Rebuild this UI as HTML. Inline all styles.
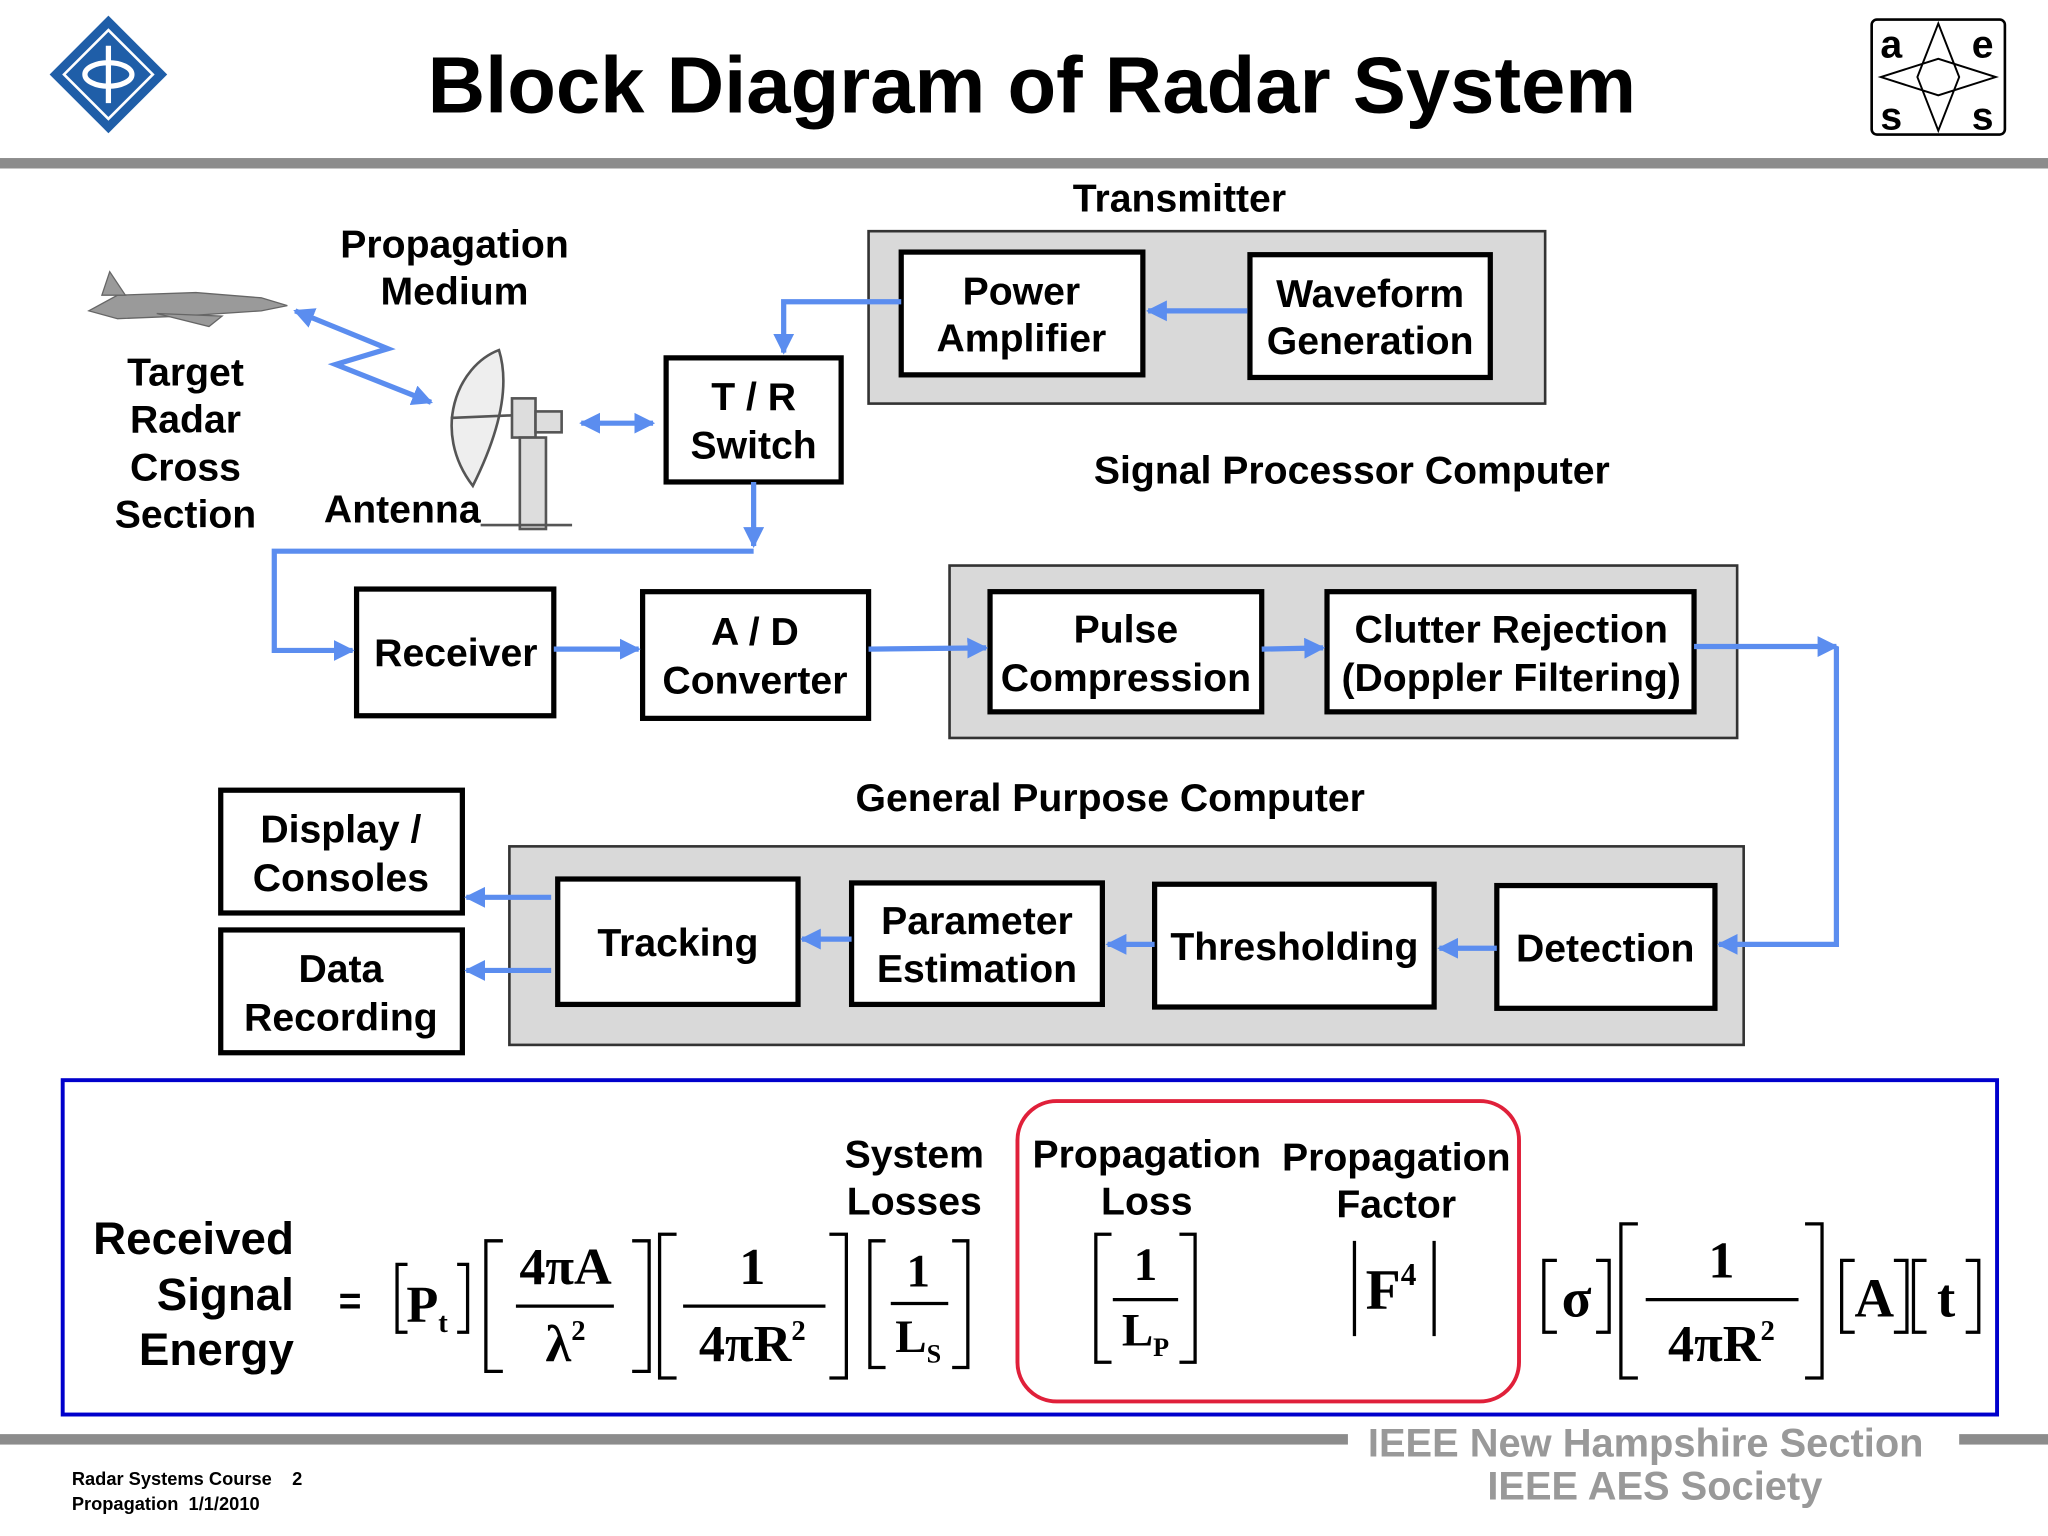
<!DOCTYPE html>
<html><head><meta charset="utf-8"><style>
html,body{margin:0;padding:0;background:#fff;}
svg{display:block;}
.t{font-family:"Liberation Sans",sans-serif;font-weight:bold;fill:#000;}
.s{font-family:"Liberation Serif",serif;font-weight:bold;fill:#000;}
</style></head><body>
<svg width="2048" height="1536" viewBox="0 0 1568 1176" xmlns="http://www.w3.org/2000/svg">
<defs>
<marker id="a" viewBox="0 0 10 10" refX="9" refY="5" markerWidth="4" markerHeight="4" orient="auto-start-reverse"><path d="M0,0 L10,5 L0,10 z" fill="#5b8def"/></marker>
</defs>
<rect width="1568" height="1176" fill="#fff"/>
<text class="t" x="790" y="86" font-size="61" text-anchor="middle">Block Diagram of Radar System</text>
<rect x="0" y="121" width="1568" height="8" fill="#8c8c8c"/>
<g transform="translate(83,57)">
<path d="M0,-45 L45,0 L0,45 L-45,0 z" fill="#1f5ea8"/>
<path d="M0,-34 L34,0 L0,34 L-34,0 z" fill="none" stroke="#fff" stroke-width="2"/>
<ellipse cx="0" cy="0" rx="18" ry="9" fill="none" stroke="#fff" stroke-width="4"/>
<line x1="0" y1="-22" x2="0" y2="22" stroke="#fff" stroke-width="4"/>
</g>
<rect x="1433" y="15" width="102" height="88" fill="#fff" stroke="#000" stroke-width="2" rx="4"/>
<path d="M1484,18 L1500,59 L1484,100 L1468,59 z M1440,59 L1484,45 L1528,59 L1484,73 z" fill="none" stroke="#000" stroke-width="1.5"/>
<text class="t" x="1448" y="44" font-size="30" text-anchor="middle">a</text>
<text class="t" x="1518" y="44" font-size="30" text-anchor="middle">e</text>
<text class="t" x="1448" y="99" font-size="30" text-anchor="middle">s</text>
<text class="t" x="1518" y="99" font-size="30" text-anchor="middle">s</text>

<g class="t" font-size="30" text-anchor="middle">
<text x="903" y="162">Transmitter</text>
<text x="348" y="197">Propagation</text><text x="348" y="233">Medium</text>
<text x="142" y="295">Target</text><text x="142" y="331">Radar</text><text x="142" y="368">Cross</text><text x="142" y="404">Section</text>
<text x="308" y="400">Antenna</text>
<text x="1035" y="370">Signal Processor Computer</text>
<text x="850" y="621">General Purpose Computer</text>
</g>

<rect x="665" y="177" width="518" height="132" fill="#d9d9d9" stroke="#333" stroke-width="2"/>
<rect x="727" y="433" width="603" height="132" fill="#d9d9d9" stroke="#333" stroke-width="2"/>
<rect x="390" y="648" width="945" height="152" fill="#d9d9d9" stroke="#333" stroke-width="2"/>

<g fill="#fff" stroke="#000" stroke-width="4">
<rect x="690" y="193" width="185" height="94"/>
<rect x="957" y="195" width="184" height="94"/>
<rect x="510" y="274" width="134" height="95"/>
<rect x="273" y="451" width="151" height="97"/>
<rect x="492" y="453" width="173" height="97"/>
<rect x="758" y="453" width="208" height="92"/>
<rect x="1016" y="453" width="281" height="92"/>
<rect x="427" y="673" width="184" height="96"/>
<rect x="652" y="676" width="192" height="93"/>
<rect x="884" y="677" width="214" height="94"/>
<rect x="1146" y="678" width="167" height="94"/>
<rect x="169" y="605" width="185" height="94"/>
<rect x="169" y="712" width="185" height="94"/>
</g>
<g class="t" font-size="30" text-anchor="middle">
<text x="782" y="233">Power</text><text x="782" y="269">Amplifier</text>
<text x="1049" y="235">Waveform</text><text x="1049" y="271">Generation</text>
<text x="577" y="314">T / R</text><text x="577" y="351">Switch</text>
<text x="349" y="510">Receiver</text>
<text x="578" y="494">A / D</text><text x="578" y="531">Converter</text>
<text x="862" y="492">Pulse</text><text x="862" y="529">Compression</text>
<text x="1157" y="492">Clutter Rejection</text><text x="1157" y="529">(Doppler Filtering)</text>
<text x="519" y="732">Tracking</text>
<text x="748" y="715">Parameter</text><text x="748" y="752">Estimation</text>
<text x="991" y="735">Thresholding</text>
<text x="1229" y="736">Detection</text>
<text x="261" y="645">Display /</text><text x="261" y="682">Consoles</text>
<text x="261" y="752">Data</text><text x="261" y="789">Recording</text>
</g>

<g fill="none" stroke="#5b8def" stroke-width="4">
<path d="M690,231 H600 V270" marker-end="url(#a)"/>
<path d="M955,238 H879" marker-end="url(#a)"/>
<path d="M577,369 V418" marker-end="url(#a)"/>
<path d="M577,422 H210 V498 H270" marker-end="url(#a)"/>
<path d="M445,324 H500" marker-start="url(#a)" marker-end="url(#a)"/>
<path d="M424,497 H489" marker-end="url(#a)"/>
<path d="M665,497 L755,496" marker-end="url(#a)"/>
<path d="M966,497 L1013,496" marker-end="url(#a)"/>
<path d="M1297,495 H1406" marker-end="url(#a)"/>
<path d="M1406,495 V723 H1316" marker-end="url(#a)"/>
<path d="M1146,726 H1102" marker-end="url(#a)"/>
<path d="M884,723 H848" marker-end="url(#a)"/>
<path d="M652,719 H614" marker-end="url(#a)"/>
<path d="M422,687 H357" marker-end="url(#a)"/>
<path d="M422,743 H357" marker-end="url(#a)"/>
<path d="M226,238 L297,267 L257,279 L330,308" marker-start="url(#a)" marker-end="url(#a)"/>
</g>

<g fill="#9a9a9a" stroke="#666" stroke-width="1">
<path d="M68,238 L90,226 L150,224 L200,228 L220,234 L200,238 L140,242 L90,244 z"/>
<path d="M78,226 L84,208 L96,226 z"/>
<path d="M120,240 L160,250 L170,242 z"/>
</g>
<g fill="none" stroke="#555" stroke-width="2">
<path d="M382,268 C350,280 330,330 362,372 C378,340 392,300 382,268 z" fill="#eee"/>
<line x1="345" y1="320" x2="392" y2="318"/>
<rect x="392" y="305" width="18" height="30" fill="#ddd"/>
<rect x="410" y="315" width="20" height="16" fill="#ddd"/>
<rect x="398" y="335" width="20" height="70" fill="#ddd"/>
<line x1="368" y1="402" x2="438" y2="402"/>
</g>

<rect x="48" y="827" width="1481" height="256" fill="none" stroke="#0000cc" stroke-width="3"/>
<rect x="779" y="843" width="384" height="230" rx="30" fill="none" stroke="#e0203a" stroke-width="3"/>
<g class="t" font-size="35" text-anchor="end">
<text x="225" y="960">Received</text><text x="225" y="1003">Signal</text><text x="225" y="1045">Energy</text>
</g>
<text class="t" x="268" y="1006" font-size="30" text-anchor="middle">=</text>
<g class="t" font-size="30" text-anchor="middle">
<text x="700" y="894">System</text><text x="700" y="930">Losses</text>
<text x="878" y="894">Propagation</text><text x="878" y="930">Loss</text>
<text x="1069" y="896">Propagation</text><text x="1069" y="932">Factor</text>
</g>
<g fill="none" stroke="#000" stroke-width="2.5">
<path d="M312,968 H304 V1020 H312 M350,968 H358 V1020 H350"/>
<path d="M385,950 H372 V1050 H385 M484,950 H497 V1050 H484"/>
<line x1="395" y1="1000" x2="470" y2="1000"/>
<path d="M518,945 H505 V1055 H518 M635,945 H648 V1055 H635"/>
<line x1="523" y1="1000" x2="632" y2="1000"/>
<path d="M678,950 H666 V1047 H678 M729,950 H741 V1047 H729"/>
<line x1="682" y1="998" x2="726" y2="998"/>
<path d="M851,945 H839 V1043 H851 M903,945 H915 V1043 H903"/>
<line x1="852" y1="995" x2="902" y2="995"/>
<path d="M1037,950 V1023 M1098,950 V1023"/>
<path d="M1192,965 H1182 V1020 H1192 M1222,965 H1232 V1020 H1222"/>
<path d="M1254,937 H1241 V1055 H1254 M1382,937 H1395 V1055 H1382"/>
<line x1="1260" y1="995" x2="1377" y2="995"/>
<path d="M1420,965 H1410 V1020 H1420 M1450,965 H1460 V1020 H1450"/>
<path d="M1475,965 H1465 V1020 H1475 M1505,965 H1515 V1020 H1505"/>
</g>
<g class="s" text-anchor="middle">
<text x="327" y="1012" font-size="40">P<tspan font-size="22" dy="8">t</tspan></text>
<text x="433" y="983" font-size="40">4πA</text>
<text x="433" y="1042" font-size="40">λ<tspan font-size="22" dy="-16">2</tspan></text>
<text x="576" y="983" font-size="40">1</text>
<text x="576" y="1042" font-size="40">4πR<tspan font-size="22" dy="-16">2</tspan></text>
<text x="703" y="985" font-size="36">1</text>
<text x="703" y="1035" font-size="36">L<tspan font-size="20" dy="8">S</tspan></text>
<text x="877" y="980" font-size="36">1</text>
<text x="877" y="1030" font-size="36">L<tspan font-size="20" dy="8">P</tspan></text>
<text x="1065" y="1002" font-size="44">F<tspan font-size="24" dy="-18">4</tspan></text>
<text x="1207" y="1008" font-size="42">σ</text>
<text x="1318" y="978" font-size="40">1</text>
<text x="1318" y="1042" font-size="40">4πR<tspan font-size="22" dy="-16">2</tspan></text>
<text x="1435" y="1008" font-size="42">A</text>
<text x="1490" y="1008" font-size="42">t</text>
</g>

<rect x="0" y="1098" width="1032" height="8" fill="#8c8c8c"/>
<rect x="1500" y="1098" width="68" height="8" fill="#8c8c8c"/>
<g class="t" font-size="30.5" text-anchor="middle" style="fill:#999">
<text x="1260" y="1115">IEEE New Hampshire Section</text>
<text x="1267" y="1148">IEEE AES Society</text>
</g>
<g class="t" font-size="14">
<text x="55" y="1137" xml:space="preserve">Radar Systems Course    2</text>
<text x="55" y="1156" xml:space="preserve">Propagation  1/1/2010</text>
</g>
</svg>
</body></html>
